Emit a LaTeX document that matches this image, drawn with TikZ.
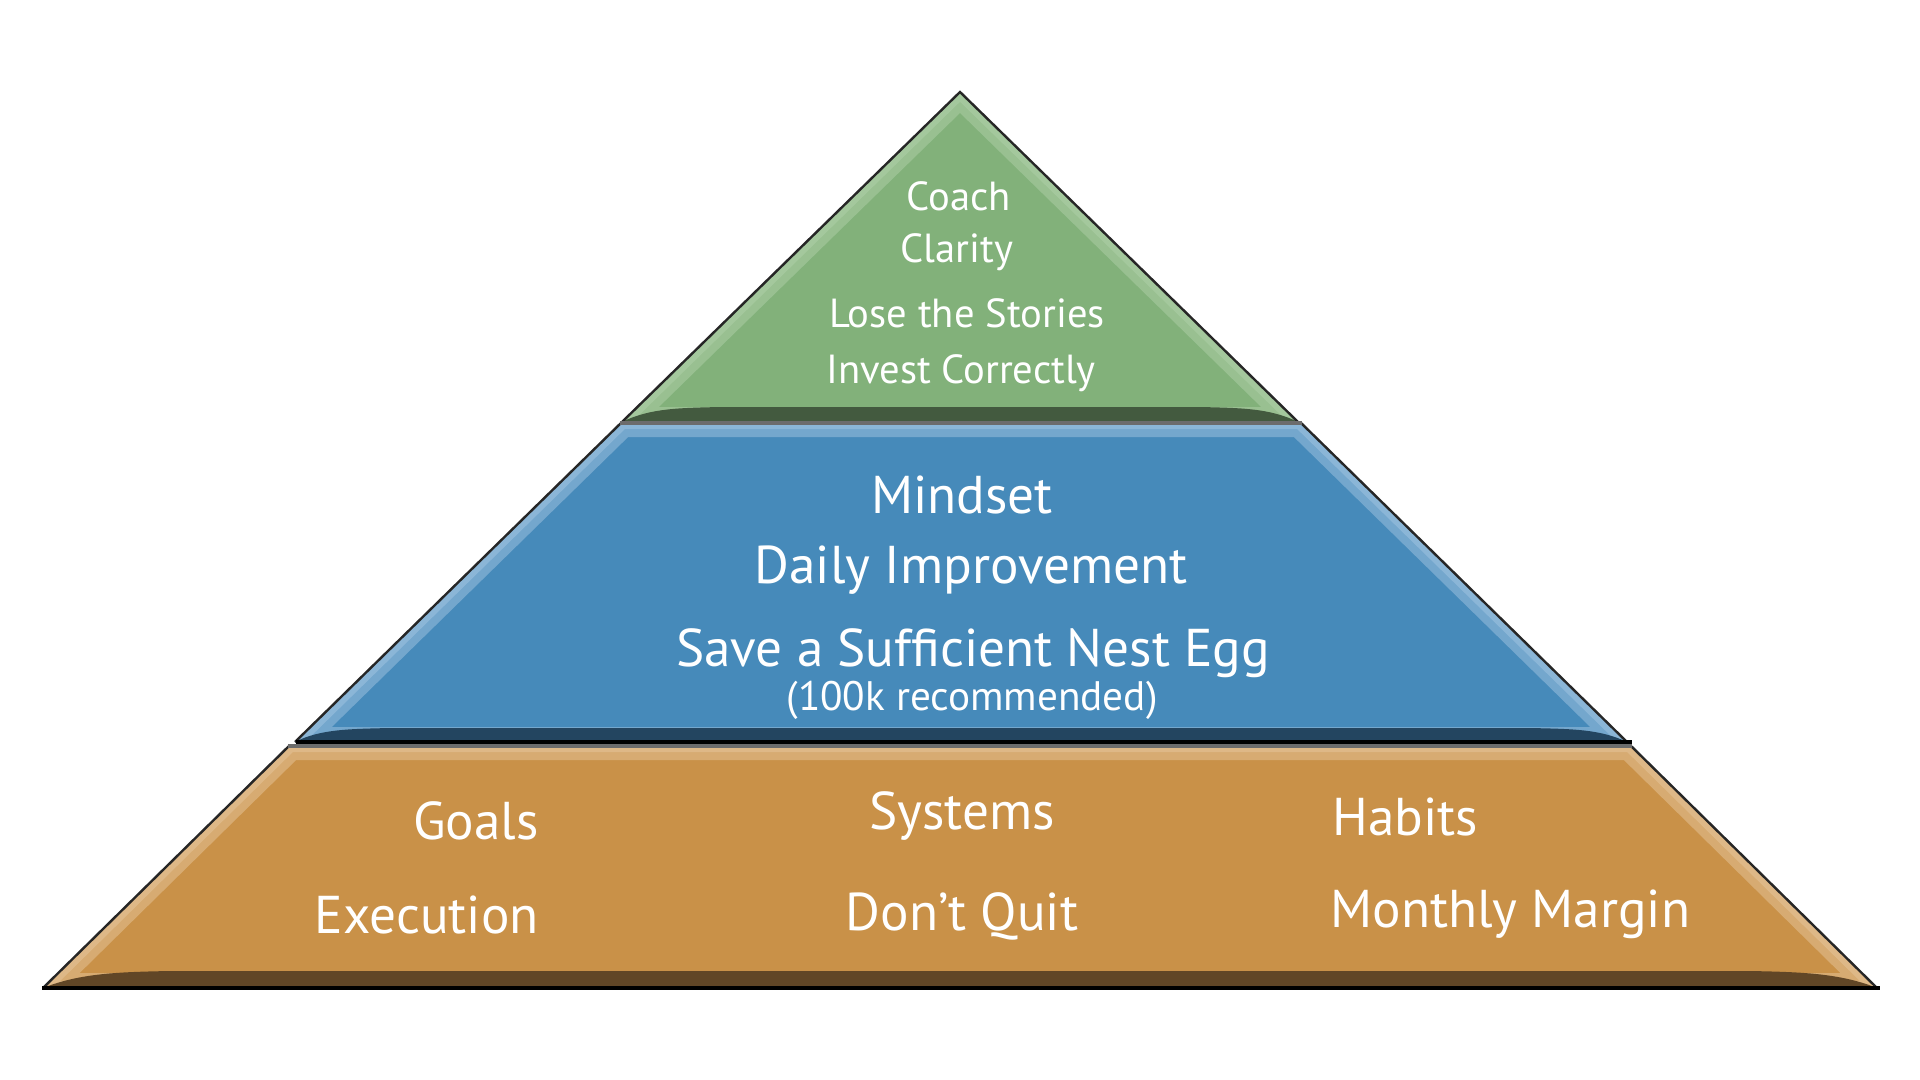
\documentclass[tikz,border=0pt]{standalone}
\usepackage{fontspec}
\setmainfont{PT Sans}
\definecolor{gmain}{RGB}{130,177,122}
\definecolor{gdark}{RGB}{67,90,63}
\definecolor{glight}{RGB}{172,206,165}
\definecolor{bmain}{RGB}{70,138,186}
\definecolor{bdark}{RGB}{35,69,96}
\definecolor{blight}{RGB}{155,192,222}
\definecolor{omain}{RGB}{201,145,72}
\definecolor{odark}{RGB}{97,70,38}
\definecolor{olight}{RGB}{228,194,150}
\definecolor{edgegrey}{RGB}{108,108,108}
\tikzset{
  lbl/.style={text=white, inner sep=0pt, anchor=center},
  small/.style={lbl, font=\fontsize{20.3}{24}\selectfont},
  big/.style={lbl, font=\fontsize{26.6}{30}\selectfont},
  sub/.style={lbl, font=\fontsize{20.6}{24}\selectfont},
  slant/.style={draw=black!85, line width=1.2pt, line join=miter},
}
\begin{document}
\begin{tikzpicture}[x=0.5pt,y=-0.5pt]
\useasboundingbox (0,0) rectangle (1920,1080);
\fill[white] (0,0) rectangle (1920,1080);
% ---------- top tier ----------
\fill[gmain] (960,92) -- (1298,422) -- (622,422) -- cycle;
\begin{scope}
  \clip (960,92) -- (1298,422) -- (622,422) -- cycle;
  \draw[glight, line width=15pt, opacity=0.55] (960,92) -- (1298,422) -- (622,422) -- cycle;
  \draw[glight, line width=7pt, opacity=0.6] (960,92) -- (1298,422) -- (622,422) -- cycle;
  \fill[gdark] (622,422) .. controls (650,408) and (680,408) .. (720,407) -- (1200,407) .. controls (1240,408) and (1270,408) .. (1298,422) -- cycle;
\end{scope}
\draw[slant] (622,422) -- (960,92) -- (1298,422);
% ---------- middle tier ----------
\fill[bmain] (622,422) -- (1300,422) -- (1627,742) -- (295,742) -- cycle;
\begin{scope}
  \clip (622,422) -- (1300,422) -- (1627,742) -- (295,742) -- cycle;
  \draw[blight, line width=15pt, opacity=0.55] (622,422) -- (1300,422) -- (1627,742) -- (295,742) -- cycle;
  \draw[blight, line width=7pt, opacity=0.6] (622,422) -- (1300,422) -- (1627,742) -- (295,742) -- cycle;
  \fill[bdark] (295,742) .. controls (320,729) and (350,729) .. (390,728) -- (1530,728) .. controls (1572,729) and (1600,729) .. (1627,742) -- cycle;
\end{scope}
\draw[slant] (295,742) -- (622,422);
\draw[slant] (1300,422) -- (1627,742);
\draw[edgegrey, line width=2pt] (620,423) -- (1302,423);
\draw[black, line width=2pt] (296,742) -- (1632,742);
% ---------- bottom tier ----------
\fill[omain] (290,745) -- (1630,745) -- (1877,988) -- (43,988) -- cycle;
\begin{scope}
  \clip (290,745) -- (1630,745) -- (1877,988) -- (43,988) -- cycle;
  \draw[olight, line width=15pt, opacity=0.55] (290,745) -- (1630,745) -- (1877,988) -- (43,988) -- cycle;
  \draw[olight, line width=7pt, opacity=0.6] (290,745) -- (1630,745) -- (1877,988) -- (43,988) -- cycle;
  \fill[odark] (43,988) .. controls (80,973) and (120,972) .. (170,971) -- (1750,971) .. controls (1800,972) and (1840,973) .. (1877,988) -- cycle;
\end{scope}
\draw[slant] (43,988) -- (290,745);
\draw[slant] (1630,745) -- (1877,988);
\draw[edgegrey, line width=2pt] (288,746) -- (1632,746);
\draw[black, line width=2pt] (42,988) -- (1880,988);
% ---------- texts ----------
\node[small] (coach) at (959,196) {Coach};
\node[small] (clarity) at (957,252) {Clarity};
\node[small] (lose) at (967,313) {Lose the Stories};
\node[small] (invest) at (961,373) {Invest Correctly};
\node[big] (mindset) at (962,495) {Mindset};
\node[big] (daily) at (971,570) {Daily Improvement};
\node[big] (save) at (973,653) {Save a Sufficient Nest Egg};
\node[sub] (rec) at (972,700) {(100k recommended)};
\node[big, anchor=east] (goals) at (539,821) {Goals};
\node[big] (systems) at (962,816) {Systems};
\node[big, anchor=west] (habits) at (1332,817) {Habits};
\node[big, anchor=east] (exec) at (539,915) {Execution};
\node[big] (dont) at (962,916) {Don’t Quit};
\node[big, anchor=west] (margin) at (1330,914) {Monthly Margin};
\end{tikzpicture}
\end{document}
